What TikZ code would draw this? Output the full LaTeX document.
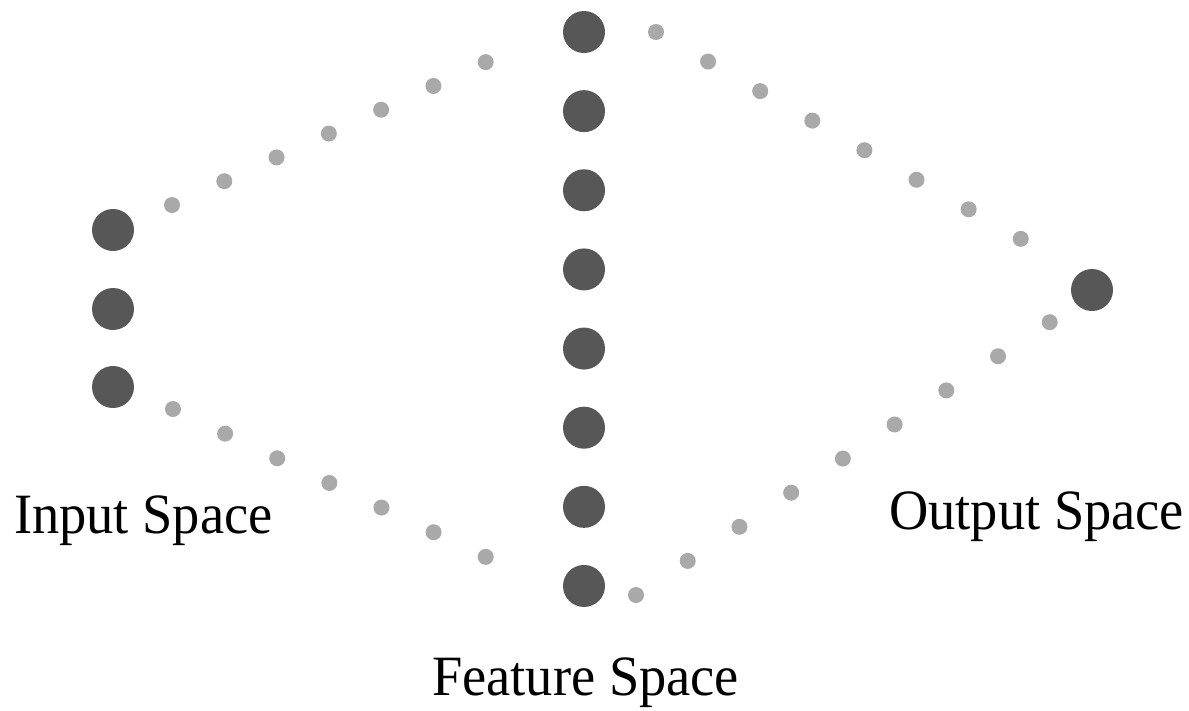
\documentclass[tikz,border=0pt]{standalone}
\usepackage{fontspec}
\setmainfont{Liberation Serif}
\definecolor{darkdot}{HTML}{575757}
\definecolor{lightdot}{HTML}{A9A9A9}
\newcommand{\narrowtext}[1]{\scalebox{0.955}[1]{#1}}
\tikzset{
  unit/.style={circle, fill=darkdot, minimum size=42pt, inner sep=0pt},
  link/.style={draw=lightdot, line width=16pt, line cap=round},
  label/.style={inner sep=0pt, anchor=base west, font=\fontsize{57}{60}\selectfont}
}
\begin{document}
\begin{tikzpicture}[x=1pt,y=-1pt]
\useasboundingbox[fill=white] (0,0) rectangle (1189,710);
% input space
\node[unit] (i1) at (113,230) {};
\node[unit] (i2) at (113,309) {};
\node[unit] (i3) at (113,387) {};
% feature space
\foreach \k [evaluate=\k as \yy using 32+79.14*(\k-1)] in {1,...,8}
  \node[unit] (f\k) at (584,\yy) {};
% output space
\node[unit] (o1) at (1092,290) {};
% dotted connectors (first and last dot)
\coordinate (tla) at (172,205); \coordinate (tlb) at (486,62);
\coordinate (bla) at (173,409); \coordinate (blb) at (486,557);
\coordinate (tra) at (656,32);  \coordinate (trb) at (1021,239);
\coordinate (bra) at (636,595); \coordinate (brb) at (1050,322);
\draw[link, dash pattern=on 0pt off 57.45pt] (tla) -- (tlb);
\draw[link, dash pattern=on 0pt off 57.65pt] (bla) -- (blb);
\draw[link, dash pattern=on 0pt off 59.9pt] (tra) -- (trb);
\draw[link, dash pattern=on 0pt off 61.95pt] (bra) -- (brb);
% labels
\node[label] (lin) at (14,533) {\narrowtext{Input Space}};
\node[label] (lout) at (889,529) {\narrowtext{Output Space}};
\node[label] (lfeat) at (432,695) {\narrowtext{Feature Space}};
\end{tikzpicture}
\end{document}
